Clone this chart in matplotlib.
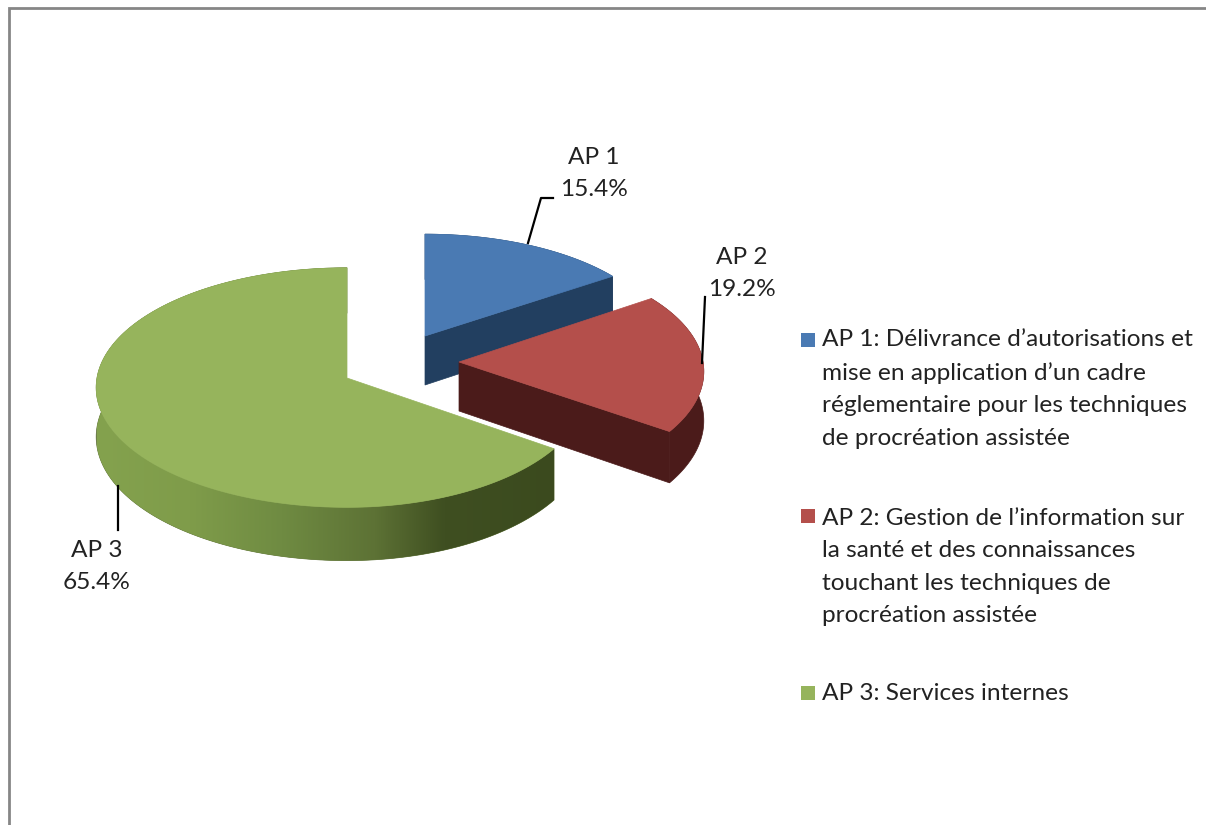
import numpy as np
import matplotlib
matplotlib.use("Agg")
import matplotlib.pyplot as plt
from matplotlib.patches import Polygon, Rectangle
from matplotlib.colors import LinearSegmentedColormap

categories = ["AP 1", "AP 2", "AP 3"]
shares = [15.4, 19.2, 65.4]
legend_labels = [
    "AP 1: Délivrance d’autorisations et\nmise en application d’un cadre\nréglementaire pour les techniques\nde procréation assistée",
    "AP 2: Gestion de l’information sur\nla santé et des connaissances\ntouchant les techniques de\nprocréation assistée",
    "AP 3: Services internes",
]
top_colors = ["#4A7AB3", "#B44F4B", "#96B45C"]
side_colors = ["#223F60", "#4B1B1A", "#5F7337"]

# layout in pixels
apex = [(425, 336), (459, 362), (347, 378)]
rx_right = [238, 244, 240]
rx_left = [238, 244, 250]
ry = [110, 117, 119]
persp = 0.08
depth = 49

fig = plt.figure(figsize=(12.06, 8.25), dpi=100, facecolor="white")
ax = fig.add_axes([0, 0, 1, 1])
ax.set_xlim(0, 1206)
ax.set_ylim(825, 0)
ax.axis("off")
plt.rcParams["font.family"] = ["Lato", "DejaVu Sans"]


def rim(i, theta):
    v = -np.cos(theta)
    s = 1 / (1 - persp * v)
    sn = np.sin(theta)
    x = apex[i][0] + np.where(sn >= 0, rx_right[i], rx_left[i]) * sn * s
    y = apex[i][1] + ry[i] * v * s
    return np.column_stack([x, y]), depth * s


edges = np.concatenate([[0], np.cumsum(shares) / np.sum(shares) * 2 * np.pi])
for i in range(len(shares)):
    th = np.linspace(edges[i], edges[i + 1], 240)
    pts, d = rim(i, th)
    low = pts + np.column_stack([np.zeros_like(d), d])
    a = np.array(apex[i], float)
    wall = np.vstack([pts, low[::-1]])
    wall_patch = Polygon(wall, closed=True, fc=side_colors[i], ec=side_colors[i], lw=0.5, zorder=2 + i)
    ax.add_patch(wall_patch)
    if i == 2:
        cmap = LinearSegmentedColormap.from_list(
            "greenwall",
            [(0.0, "#84A24E"), (0.2, "#7F9C4A"), (0.4, "#6F8B42"),
             (0.6, "#5D7235"), (0.75, "#3F4F21"), (1.0, "#3B4A1E")])
        img = ax.imshow(np.linspace(0, 1, 256)[None, :], extent=(97, 560, 600, 260),
                        cmap=cmap, aspect="auto", zorder=2 + i + 0.1)
        img.set_clip_path(wall_patch)
        ax.set_xlim(0, 1206)
        ax.set_ylim(825, 0)
    else:
        # cut face running from the apex out to the clockwise end of the slice
        face = np.array([a, pts[-1], low[-1], a + [0, depth]])
        ax.add_patch(Polygon(face, closed=True, fc=side_colors[i], ec=side_colors[i], lw=0.5, zorder=2 + i + 0.2))
    ax.add_patch(Polygon(np.vstack([a, pts]), closed=True, fc=top_colors[i], ec=top_colors[i],
                         lw=0.5, zorder=2 + i + 0.3))

# frame
ax.plot([8.5, 8.5, 1206], [825, 8, 8], color="#868686", lw=2.0, solid_joinstyle="miter", zorder=1)

# leaders and data labels
leaders = [([528, 541, 553], [243, 198, 198]), ([702, 705], [363, 297]), ([118, 118], [486, 530])]
label_pos = [(594, 173.5), (742, 273.5), (97, 566.5)]
for cat, share, ln, (lx, ly) in zip(categories, shares, leaders, label_pos):
    ax.plot(ln[0], ln[1], color="black", lw=1.6, zorder=8)
    ax.text(lx, ly, f"{cat}\n{share:.1f}%", ha="center", va="center", fontsize=17.6,
            color="#222222", linespacing=1.6, zorder=9)

# legend
legend_y = [389, 567, 693]
square_y = [339.5, 516, 693]
for lab, c, y, sy in zip(legend_labels, top_colors, legend_y, square_y):
    ax.add_patch(Rectangle((801, sy - 7), 14, 14, fc=c, ec="none", zorder=5))
    ax.text(822, y, lab, ha="left", va="center", fontsize=17.6, color="#222222",
            linespacing=1.66, zorder=9)

fig.savefig("out.png", dpi=100)
